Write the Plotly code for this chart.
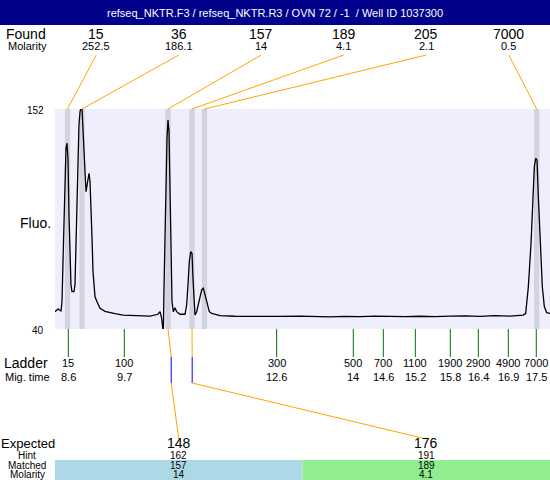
import plotly.graph_objects as go

# ---------------- data ----------------
mig_time = [8.347, 8.404, 8.461, 8.480, 8.499, 8.518, 8.537, 8.556, 8.575, 8.594,
            8.613, 8.632, 8.651, 8.670, 8.708, 8.727, 8.746, 8.765, 8.784, 8.803,
            8.823, 8.842, 8.861, 8.880, 8.899, 8.918, 8.937, 8.956, 8.975, 8.994,
            9.013, 9.032, 9.051, 9.070, 9.089, 9.108, 9.146, 9.203, 9.298, 9.393,
            9.488, 9.640, 9.773, 9.964, 10.154, 10.306, 10.344, 10.376, 10.395, 10.407,
            10.420, 10.439, 10.458, 10.477, 10.496, 10.515, 10.534, 10.553, 10.572, 10.597,
            10.629, 10.661, 10.724, 10.819, 10.851, 10.876, 10.901, 10.928, 10.953, 10.971,
            10.990, 11.009, 11.041, 11.091, 11.137, 11.168, 11.200, 11.244, 11.282, 11.327,
            11.485, 11.770, 12.056, 12.341, 12.626, 13.006, 13.291, 13.577, 13.862, 14.148,
            14.433, 14.718, 15.004, 15.289, 15.574, 15.859, 16.145, 16.430, 16.715, 17.000,
            17.190, 17.253, 17.299, 17.349, 17.400, 17.432, 17.463, 17.489, 17.514, 17.539,
            17.577, 17.615, 17.653, 17.699, 17.761]
fluo = [48.8, 50.2, 49.2, 53.9, 74.3, 94.6, 111.6, 132.0, 134.6, 126.9,
        98.0, 72.6, 62.4, 59.0, 59.0, 62.4, 81.1, 103.1, 128.6, 143.9,
        150.6, 152.5, 152.0, 138.8, 130.3, 120.1, 109.9, 113.3, 118.4, 119.3,
        115.0, 103.1, 86.2, 69.2, 60.7, 56.4, 53.9, 50.5, 49.0, 48.3,
        47.8, 47.1, 47.0, 46.9, 46.6, 47.5, 48.8, 45.4, 38.0, 38.0,
        60.7, 86.2, 115.0, 137.1, 146.4, 140.5, 111.6, 77.7, 53.9, 48.8,
        50.8, 48.8, 47.5, 47.5, 52.2, 62.4, 74.3, 79.4, 78.5, 65.8,
        52.2, 47.1, 48.8, 53.9, 59.9, 60.7, 57.3, 52.2, 48.8, 48.0,
        46.8, 46.5, 46.4, 46.3, 46.4, 46.6, 46.3, 46.2, 46.4, 46.3,
        46.6, 46.4, 46.3, 46.5, 46.3, 46.6, 46.7, 46.4, 46.8, 46.6,
        46.8, 47.1, 48.0, 61.5, 83.6, 105.7, 122.6, 126.9, 126.0, 107.4,
        83.6, 61.5, 51.4, 48.3, 48.0]

found_size = ["15", "36", "157", "189", "205", "7000"]
found_molarity = ["252.5", "186.1", "14", "4.1", "2.1", "0.5"]
found_time = [8.585, 8.861, 10.496, 10.953, 11.190, 17.508]

ladder_size = ["15", "100", "300", "500", "700", "1100", "1900", "2900", "4900", "7000"]
ladder_mig_label = ["8.6", "9.7", "12.6", "14", "14.6", "15.2", "15.8", "16.4", "16.9", "17.5"]
ladder_time = [8.600, 9.665, 12.563, 14.020, 14.591, 15.200, 15.865, 16.398, 16.968, 17.500]

expected = ["148", "176"]
hint = ["162", "191"]
matched = ["157", "189"]
matched_molarity = ["14", "4.1"]
matched_found_index = [2, 3]
matched_ladder_time = [10.557, 10.956]
matched_colors = ["#ADD8E6", "#90EE90"]

title = "refseq_NKTR.F3 / refseq_NKTR.R3 / OVN 72 / -1  / Well ID 1037300"

# ---------------- layout helpers ----------------
W, H = 550, 480
L, T, B = 55, 109, 329
XMIN, XMAX = 8.347, 17.761
YMIN, YMAX = 40, 152
BAND_W = 0.1
FONT = "Liberation Sans, Arial, sans-serif"
ORANGE = "#FFA500"


def PX(px):
    return (px - L) / (W - L)


def PY(py):
    return (B - py) / (B - T)


def tpaper(t):
    return (t - XMIN) / (XMAX - XMIN)


fig = go.Figure()
fig.add_trace(go.Scatter(x=mig_time, y=fluo, mode="lines",
                         line=dict(color="black", width=1.3),
                         hoverinfo="skip", showlegend=False))

shapes = []
annos = []


def txt(text, x, y, size, xref="paper", color="black", xanchor="center"):
    annos.append(dict(text=text, x=x, y=y, xref=xref, yref="paper", showarrow=False,
                      font=dict(size=size, color=color, family=FONT),
                      xanchor=xanchor, yanchor="middle", borderpad=0))


def line(x0, y0, x1, y1, color, xref="paper", width=1):
    shapes.append(dict(type="line", x0=x0, y0=y0, x1=x1, y1=y1, xref=xref, yref="paper",
                       line=dict(color=color, width=width)))


# title bar
shapes.append(dict(type="rect", xref="paper", yref="paper", x0=PX(0), x1=PX(W),
                   y0=PY(25), y1=PY(0), fillcolor="#00008B", line=dict(width=0)))
txt(title, PX(275), PY(13), 11, color="white")

# found peak bands
for t in found_time:
    shapes.append(dict(type="rect", xref="x", yref="paper", x0=t - BAND_W / 2, x1=t + BAND_W / 2,
                       y0=0, y1=1, fillcolor="#D3D3DF", line=dict(width=0), layer="below"))

# found labels + connectors
txt("Found", PX(26), PY(34), 14)
txt("Molarity", PX(27), PY(46), 11)
n = len(found_size)
for i in range(n):
    xs = (i + 0.5) / n
    txt(found_size[i], xs, PY(34), 14)
    txt(found_molarity[i], xs, PY(46), 11)
    line(xs, PY(55), tpaper(found_time[i]), 1, ORANGE)

# y-axis labels
txt("152", PX(45), PY(111), 10, xanchor="right")
txt("40", PX(45), PY(330), 10, xanchor="right")
txt("Fluo.", PX(35), PY(223), 14)

# ladder
txt("Ladder", PX(26), PY(363), 14)
txt("Mig. time", PX(27), PY(377), 11)
for s, lab, t in zip(ladder_size, ladder_mig_label, ladder_time):
    shapes.append(dict(type="line", xref="x", yref="paper", x0=t, x1=t, y0=PY(329), y1=PY(357),
                       line=dict(color="#007000", width=1)))
    txt(s, t, PY(363), 11, xref="x")
    txt(lab, t, PY(377), 11, xref="x")

# expected / matched
txt("Expected", PX(28), PY(443), 13)
txt("Hint", PX(27), PY(455), 10)
txt("Matched", PX(27), PY(465), 10)
txt("Molarity", PX(27), PY(474), 10)
m = len(expected)
for j in range(m):
    x0, x1 = j / m, (j + 1) / m
    xc = (j + 0.5) / m
    shapes.append(dict(type="rect", xref="paper", yref="paper", x0=x0, x1=x1,
                       y0=PY(480), y1=PY(460), fillcolor=matched_colors[j], line=dict(width=0)))
    txt(expected[j], xc, PY(443), 14)
    txt(hint[j], xc, PY(455), 10)
    txt(matched[j], xc, PY(465), 10)
    txt(matched_molarity[j], xc, PY(474), 10)
    tf = found_time[matched_found_index[j]]
    tl = matched_ladder_time[j]
    line(tpaper(tf), PY(329), tpaper(tl), PY(357), ORANGE)
    line(tpaper(tl), PY(357), tpaper(tl), PY(383), "#0000FF")
    line(tpaper(tl), PY(383), xc, PY(439), ORANGE)

fig.update_layout(
    width=W, height=H,
    margin=dict(l=L, r=0, t=T, b=H - B, pad=0),
    paper_bgcolor="white", plot_bgcolor="#EEEEFC",
    xaxis=dict(range=[XMIN, XMAX], visible=False, fixedrange=True),
    yaxis=dict(range=[YMIN, YMAX], visible=False, fixedrange=True),
    showlegend=False,
    shapes=shapes, annotations=annos,
    font=dict(family=FONT),
)

fig.write_html("out.html", config={"displayModeBar": False},
               post_script="document.body.style.margin='0';document.body.style.padding='0';")
